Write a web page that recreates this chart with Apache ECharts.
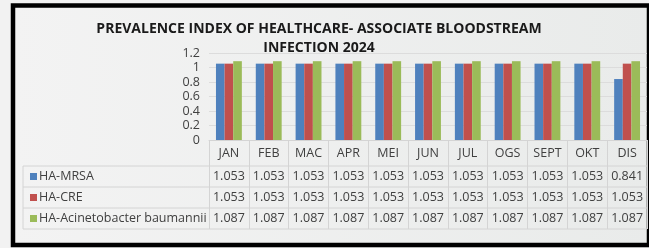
<!DOCTYPE html>
<html lang="en">
<head>
    <meta charset="UTF-8">
    <title>Prevalence Index HABSI 2024</title>
    <style>
        html, body { margin: 0; padding: 0; background: #f2f2f2; }
        #chart-container { width: 649px; height: 248px; }
    </style>
</head>
<body>
    <div id="chart-container"></div>
    <script src="https://cdn.jsdelivr.net/npm/echarts@6/dist/echarts.min.js"></script>
    <script>
        // data
        const months = ['JAN', 'FEB', 'MAC', 'APR', 'MEI', 'JUN', 'JUL', 'OGS', 'SEPT', 'OKT', 'DIS'];
        const seriesNames = ['HA-MRSA', 'HA-CRE', 'HA-Acinetobacter baumannii'];
        const mrsa = [1.053, 1.053, 1.053, 1.053, 1.053, 1.053, 1.053, 1.053, 1.053, 1.053, 0.841];
        const cre = [1.053, 1.053, 1.053, 1.053, 1.053, 1.053, 1.053, 1.053, 1.053, 1.053, 1.053];
        const acineto = [1.087, 1.087, 1.087, 1.087, 1.087, 1.087, 1.087, 1.087, 1.087, 1.087, 1.087];
        const rows = [mrsa, cre, acineto];
        const colors = ['#4f81bd', '#c0504d', '#9bbb59'];

        const font = 'Open Sans';
        const textColor = '#404040';
        const lineColor = '#d4d4d4';

        // layout of the plot + data table
        const plotLeft = 209, plotTop = 53, plotBottom = 140, plotRight = 647;
        const tableLeft = 23, headerBottom = 166, rowH = 21;
        const tableBottom = headerBottom + rowH * rows.length;

        var dom = document.getElementById('chart-container');
        var myChart = echarts.init(dom, null, { renderer: 'canvas' });

        // extra x axes used as the value rows of the table
        const rowAxes = rows.map(function (vals, k) {
            return {
                type: 'category',
                data: months,
                position: 'bottom',
                offset: headerBottom - plotBottom + rowH * k,
                axisLine: { show: false },
                axisTick: { show: false },
                axisLabel: {
                    interval: 0,
                    margin: rowH / 2,
                    verticalAlign: 'middle',
                    fontFamily: font,
                    fontSize: 12.5,
                    color: textColor,
                    formatter: function (v, i) { return vals[i].toFixed(3); }
                }
            };
        });

        // table grid lines and row headers
        const tableGraphics = [];
        for (let k = 0; k <= rows.length; k++) {
            const y = headerBottom + rowH * k;
            tableGraphics.push({
                type: 'line', silent: true,
                shape: { x1: tableLeft, y1: y, x2: plotRight, y2: y },
                style: { stroke: lineColor, lineWidth: 1 }
            });
        }
        tableGraphics.push({
            type: 'line', silent: true,
            shape: { x1: tableLeft, y1: headerBottom, x2: tableLeft, y2: tableBottom },
            style: { stroke: lineColor, lineWidth: 1 }
        });
        seriesNames.forEach(function (name, k) {
            const cy = headerBottom + rowH * k + rowH / 2;
            tableGraphics.push({
                type: 'rect', silent: true,
                shape: { x: 30, y: cy - 3.5, width: 7, height: 7 },
                style: { fill: colors[k] }
            });
            tableGraphics.push({
                type: 'text', silent: true,
                x: 39, y: cy,
                style: {
                    text: name, fill: textColor, font: '12.5px "' + font + '"',
                    verticalAlign: 'middle', align: 'left'
                }
            });
        });

        var option = {
            backgroundColor: '#f2f2f2',
            title: {
                text: 'PREVALENCE INDEX OF HEALTHCARE- ASSOCIATE BLOODSTREAM\nINFECTION 2024',
                left: 314,
                top: 15,
                textAlign: 'center',
                textStyle: {
                    fontFamily: font,
                    fontWeight: 'bold',
                    fontSize: 14,
                    lineHeight: 19,
                    color: '#1a1a1a'
                }
            },
            grid: {
                left: plotLeft,
                top: plotTop,
                width: plotRight - plotLeft,
                height: plotBottom - plotTop,
                containLabel: false
            },
            xAxis: [{
                type: 'category',
                data: months,
                position: 'bottom',
                axisLine: { show: true, lineStyle: { color: lineColor } },
                axisTick: {
                    show: true, inside: false,
                    length: tableBottom - plotBottom,
                    lineStyle: { color: lineColor }
                },
                axisLabel: {
                    interval: 0,
                    margin: (headerBottom - plotBottom) / 2,
                    verticalAlign: 'middle',
                    fontFamily: font,
                    fontSize: 12.5,
                    color: textColor
                }
            }].concat(rowAxes),
            yAxis: {
                type: 'value',
                min: 0,
                max: 1.2,
                interval: 0.2,
                axisLine: { show: false },
                axisTick: { show: false },
                splitLine: { lineStyle: { color: '#dcdcdc' } },
                axisLabel: {
                    margin: 9,
                    fontFamily: font,
                    fontSize: 12.5,
                    color: textColor
                }
            },
            series: rows.map(function (vals, k) {
                return {
                    name: seriesNames[k],
                    type: 'bar',
                    data: vals,
                    barGap: '0%',
                    barCategoryGap: '35%',
                    itemStyle: { color: colors[k] },
                    silent: true
                };
            }),
            graphic: [
                {
                    type: 'rect', silent: true, z: -1,
                    shape: { x: 13, y: 5.5, width: 636, height: 239.5 },
                    style: {
                        fill: new echarts.graphic.LinearGradient(0, 0, 1, 0, [
                            { offset: 0, color: '#f3f3f3' },
                            { offset: 1, color: '#e9ebea' }
                        ]),
                        stroke: '#000', lineWidth: 4.5
                    }
                }
            ].concat(tableGraphics)
        };

        myChart.setOption(option);
        window.addEventListener('resize', myChart.resize);
    </script>
</body>
</html>
